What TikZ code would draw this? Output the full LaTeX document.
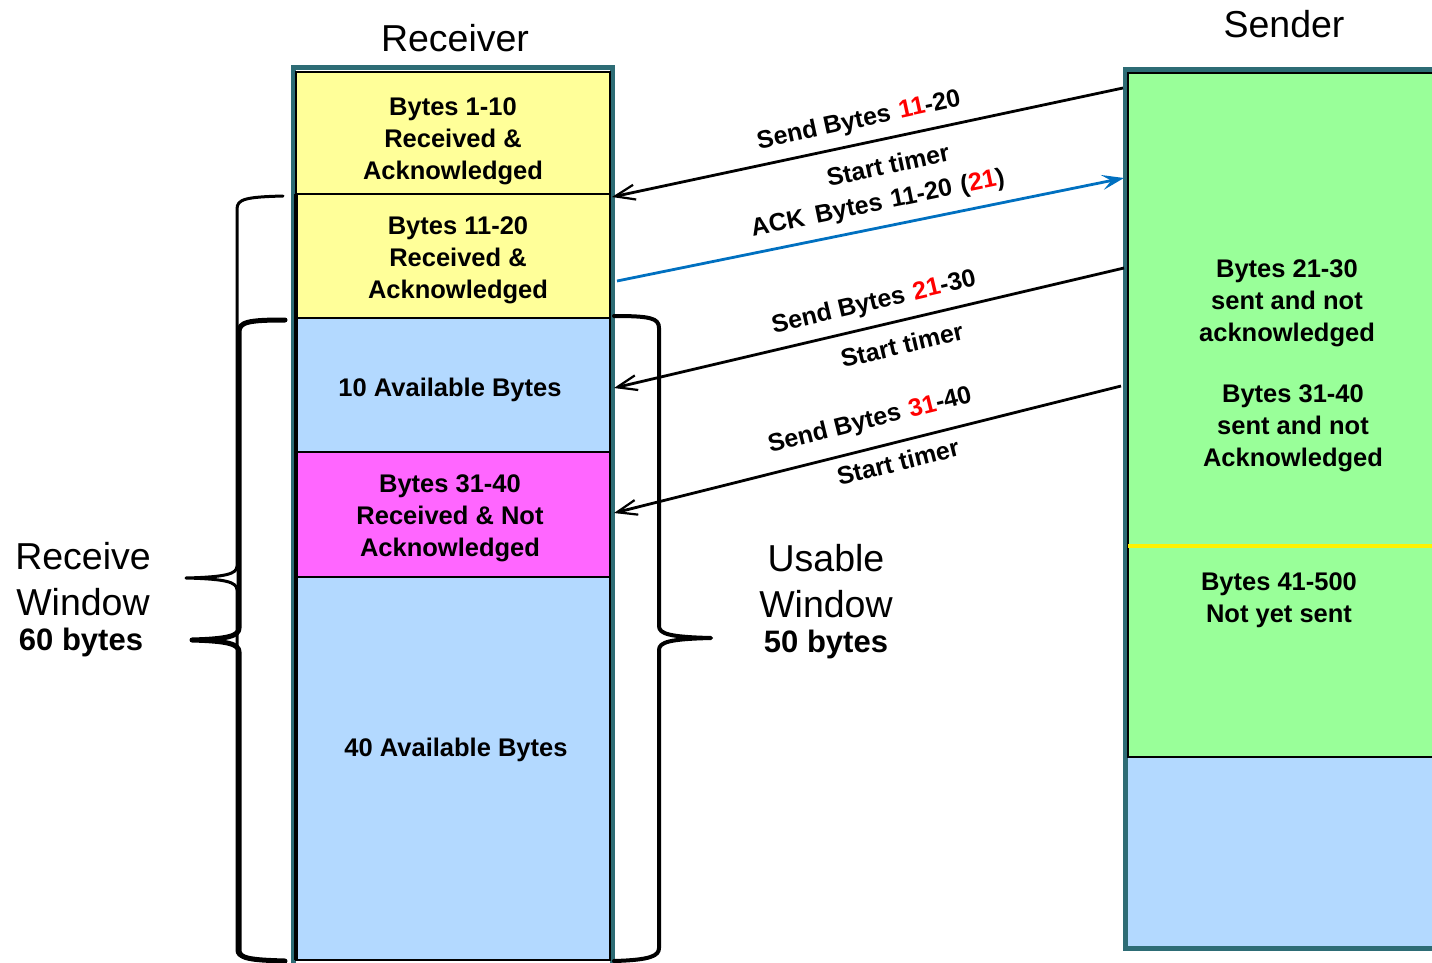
\documentclass[tikz,border=0pt]{standalone}
\usepackage{fontspec}
\setmainfont{Liberation Sans}
\usetikzlibrary{arrows.meta}
\definecolor{tealframe}{RGB}{45,108,117}
\definecolor{ylw}{RGB}{255,255,153}
\definecolor{lblue}{RGB}{179,217,255}
\definecolor{pnk}{RGB}{255,102,255}
\definecolor{grn}{RGB}{153,255,153}
\definecolor{ackblue}{RGB}{0,112,192}
\begin{document}
\begin{tikzpicture}[x=1pt,y=-1pt,
  frame/.style={draw=tealframe, line width=5pt, inner sep=0pt, outer sep=0pt},
  rbox/.style={draw=black, line width=2pt, minimum width=314pt, inner sep=0pt, outer sep=0pt},
  boxtxt/.style={align=center, font=\fontsize{25.5}{32}\selectfont\bfseries, inner sep=0pt},
  bigtxt/.style={align=center, font=\fontsize{37.5}{46}\selectfont, inner sep=0pt},
  bytestxt/.style={font=\fontsize{31}{36}\selectfont\bfseries, inner sep=0pt},
  lbl/.style={font=\fontsize{25}{30}\selectfont\bfseries, inner sep=0pt},
  sendarrow/.style={line width=2.8pt, -{Straight Barb[length=20pt,width=15pt,line width=2.2pt]}},
  ackarrow/.style={draw=ackblue, line width=2.8pt, -{Stealth[length=22pt,width=15pt,inset=9pt]}},
  bracepath/.style={line width=#1, line cap=round, line join=round},
]
\useasboundingbox (0,0) rectangle (1432,963);

% ---------------- Receiver ----------------
\node[bigtxt] (rtitle) at (455,38) {Receiver};
\node[frame, minimum width=319pt, minimum height=900pt] (rframe) at (452.5,518) {};
\node[rbox, fill=ylw,  minimum height=122pt] (r1) at (453,133) {};
\node[rbox, fill=ylw,  minimum height=124pt] (r2) at (453,256) {};
\node[rbox, fill=lblue,minimum height=134pt] (r3) at (453,385) {};
\node[rbox, fill=pnk,  minimum height=125pt] (r4) at (453,514.5) {};
\node[rbox, fill=lblue,minimum height=383pt] (r5) at (453,768.5) {};
\draw[line width=4pt] (r2.north west) -- (r5.south west);

\node[boxtxt] (r1t) at (453,141) {Bytes 1-10\\Received \&\\Acknowledged};
\node[boxtxt] (r2t) at (458,260) {Bytes 11-20\\Received \&\\Acknowledged};
\node[boxtxt] (r3t) at (450,390) {10 Available Bytes};
\node[boxtxt] (r4t) at (450,518) {Bytes 31-40\\Received \& Not\\Acknowledged};
\node[boxtxt] (r5t) at (456,750) {40 Available Bytes};

% ---------------- Sender ----------------
\node[bigtxt] (stitle) at (1284,24) {Sender};
\node[frame, fill=lblue, minimum width=335pt, minimum height=878pt] (sframe) at (1292.5,509) {};
\node[draw=black, line width=2pt, fill=grn, minimum width=332pt, minimum height=684pt, inner sep=0pt, outer sep=0pt] (sgreen) at (1294,415) {};
\coordinate (yl) at (1128,546);
\coordinate (yr) at (1440,546);
\draw[yellow, line width=4pt] (yl) -- (yr);

\node[boxtxt] (s1t) at (1287,303) {Bytes 21-30\\sent and not\\acknowledged};
\node[boxtxt] (s2t) at (1293,428) {Bytes 31-40\\sent and not\\Acknowledged};
\node[boxtxt] (s3t) at (1279,600) {Bytes 41-500\\Not yet sent};

% ---------------- Arrows ----------------
\coordinate (a1s) at (1123,88);
\coordinate (a1e) at (612,197);
\coordinate (a2s) at (617,281);
\coordinate (a2e) at (1124,178);
\coordinate (a3s) at (1124,268);
\coordinate (a3e) at (614,388);
\coordinate (a4s) at (1121,386);
\coordinate (a4e) at (614,513);

\draw[sendarrow] (a1s) -- (a1e);
\draw[ackarrow] (a2s) -- (a2e);
\draw[sendarrow] (a3s) -- (a3e);
\draw[sendarrow] (a4s) -- (a4e);

\node[lbl, rotate=12.2] (t1a) at (859,121) {Send Bytes\hspace{0.35em}\textcolor{red}{11}-20};
\node[lbl, rotate=12.2] (t1b) at (888,165) {Start timer};
\node[lbl, rotate=11.6] (t2)  at (878,204) {ACK\hspace{0.45em}Bytes\hspace{0.35em}11-20\hspace{0.35em}(\textcolor{red}{21})};
\node[lbl, rotate=13.2] (t3a) at (874,303) {Send Bytes\hspace{0.35em}\textcolor{red}{21}-30};
\node[lbl, rotate=13.2] (t3b) at (902,345) {Start timer};
\node[lbl, rotate=14]   (t4a) at (870,421) {Send Bytes\hspace{0.35em}\textcolor{red}{31}-40};
\node[lbl, rotate=14]   (t4b) at (898,462) {Start timer};

% ---------------- Braces ----------------
% Receive window brace (thin)
\draw[bracepath=3pt] (283,196) .. controls (246,197) and (237,199) .. (237,209)
  -- (237,566) .. controls (237,574) and (226,577) .. (186,578)
  .. controls (226,579) and (237,582) .. (237,590)
  -- (237,950) .. controls (237,958) and (246,960) .. (283,961);
% second left brace (thick)
\draw[bracepath=5pt] (285,320) .. controls (248,320) and (239,322) .. (239,332)
  -- (239,628) .. controls (239,636) and (228,639) .. (192,640)
  .. controls (228,641) and (239,644) .. (239,652)
  -- (239,950) .. controls (239,958) and (248,960) .. (285,961);
% usable window brace
\draw[bracepath=4pt] (614,316) .. controls (650,316) and (659,318) .. (659,328)
  -- (659,626) .. controls (659,634) and (670,637) .. (711,638)
  .. controls (670,639) and (659,642) .. (659,650)
  -- (659,948) .. controls (659,956) and (650,960) .. (614,961);

% ---------------- Side labels ----------------
\node[bigtxt] (rw) at (83,579) {Receive\\Window};
\node[bytestxt] (rwb) at (81,642) {60 bytes};
\node[bigtxt] (uw) at (826,581) {Usable\\Window};
\node[bytestxt] (uwb) at (826,644) {50 bytes};
\end{tikzpicture}
\end{document}
